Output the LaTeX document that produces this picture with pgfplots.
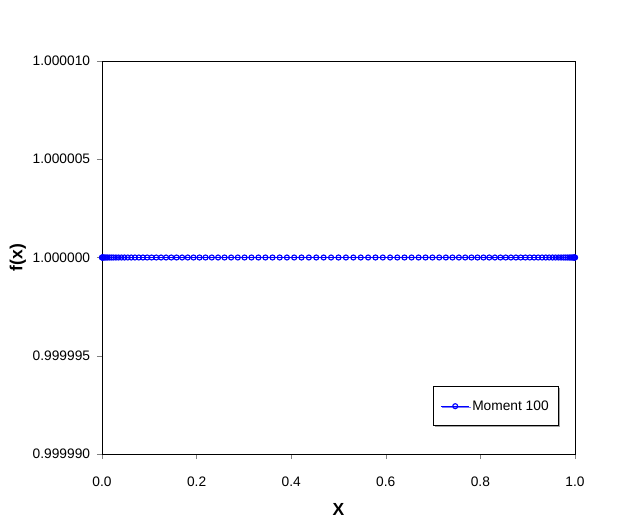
\documentclass[border=0pt]{standalone}
\usepackage{fontspec}
\setmainfont{Liberation Sans}
\usepackage{pgfplots}
\pgfplotsset{compat=1.18}
\usetikzlibrary{shadows}
\definecolor{mblue}{RGB}{0,0,255}

\begin{document}
\begin{tikzpicture}
\begin{axis}[
    width=378.4pt, height=314.4pt, scale only axis,
    xmin=0, xmax=1, ymin=-10, ymax=10,
    xtick={0,0.2,0.4,0.6,0.8,1},
    ytick={-10,-5,0,5,10},
    yticklabels={0.999990,0.999995,1.000000,1.000005,1.000010},
    % values stored as f(x)=1, shown as deviation in units of 1e-6
    y filter/.expression={(y-1)*1000000},
    xticklabel style={/pgf/number format/fixed, /pgf/number format/fixed zerofill,
        /pgf/number format/precision=1, yshift=-11pt},
    /pgf/number format/assume math mode=true,
    tick align=outside, tick pos=left,
    major tick length=4pt,
    tick label style={font=\fontsize{11}{13}\selectfont},
    yticklabel style={xshift=-2pt},
    xlabel={\bfseries X}, ylabel={\bfseries f(x)},
    label style={font=\fontsize{14}{16}\selectfont},
    xlabel style={yshift=-6pt},
    ylabel style={yshift=-1.5pt},
    axis line style={black, line width=0.6pt},
    legend style={at={(1,0)}, anchor=south east, xshift=-12.8pt, yshift=22.4pt,
        draw=black, line width=0.5pt, fill=white,
        drop shadow={shadow xshift=1.2pt, shadow yshift=-1.2pt, fill=black!70},
        font=\fontsize{11}{13}\selectfont,
        inner xsep=6pt, inner ysep=9pt},
    legend image code/.code={
        \draw[mark repeat=2, mark phase=2, #1]
            plot coordinates {(0cm,0cm) (0.4cm,0cm) (0.8cm,0cm)};},
    legend cell align=left,
    clip=false,
]
\addplot[color=mblue, line width=0.5pt, mark=o, mark size=2pt,
         mark options={line width=0.9pt, fill=white}]
  coordinates {
  (0,1) (0.000247,1) (0.000987,1) (0.002219,1) (0.003943,1) (0.006156,1)
  (0.008856,1) (0.012042,1) (0.015708,1) (0.019853,1) (0.024472,1)
  (0.029560,1) (0.035112,1) (0.041123,1) (0.047586,1) (0.054497,1)
  (0.061847,1) (0.069629,1) (0.077836,1) (0.086460,1) (0.095492,1)
  (0.104922,1) (0.114743,1) (0.124944,1) (0.135516,1) (0.146447,1)
  (0.157726,1) (0.169344,1) (0.181288,1) (0.193546,1) (0.206107,1)
  (0.218958,1) (0.232087,1) (0.245479,1) (0.259123,1) (0.273005,1)
  (0.287110,1) (0.301426,1) (0.315938,1) (0.330631,1) (0.345492,1)
  (0.360504,1) (0.375655,1) (0.390928,1) (0.406309,1) (0.421783,1)
  (0.437333,1) (0.452946,1) (0.468605,1) (0.484295,1) (0.5,1)
  (0.515705,1) (0.531395,1) (0.547054,1) (0.562667,1) (0.578217,1)
  (0.593691,1) (0.609072,1) (0.624345,1) (0.639496,1) (0.654508,1)
  (0.669369,1) (0.684062,1) (0.698574,1) (0.712890,1) (0.726995,1)
  (0.740877,1) (0.754521,1) (0.767913,1) (0.781042,1) (0.793893,1)
  (0.806454,1) (0.818712,1) (0.830656,1) (0.842274,1) (0.853553,1)
  (0.864484,1) (0.875056,1) (0.885257,1) (0.895078,1) (0.904508,1)
  (0.913540,1) (0.922164,1) (0.930371,1) (0.938153,1) (0.945503,1)
  (0.952414,1) (0.958877,1) (0.964888,1) (0.970440,1) (0.975528,1)
  (0.980147,1) (0.984292,1) (0.987958,1) (0.991144,1) (0.993844,1)
  (0.996057,1) (0.997781,1) (0.999013,1) (0.999753,1) (1,1)
  };
\addlegendentry{Moment 100}
\end{axis}
\path ([shift={(-81.6pt,-57.6pt)}]current axis.south west)
      rectangle ([shift={(38.4pt,48.8pt)}]current axis.north east);
\end{tikzpicture}
\end{document}
